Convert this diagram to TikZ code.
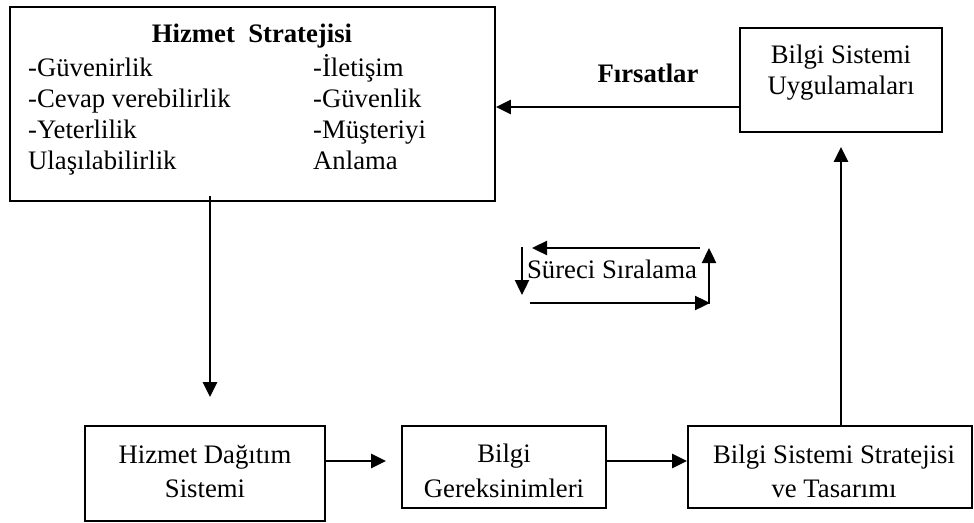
\documentclass[tikz,border=0pt]{standalone}
\usepackage{fontspec}
\setmainfont{Liberation Serif}
\usetikzlibrary{arrows.meta}
\begin{document}
\begin{tikzpicture}[x=1pt,y=-1pt,
  box/.style={draw, line width=1.8pt, inner sep=0pt},
  txt/.style={inner sep=0pt, anchor=base, font=\fontsize{26.7}{32}\selectfont},
  ltxt/.style={txt, anchor=base west},
  arr/.style={line width=2.4pt, -{Triangle[length=15pt,width=14pt]}}]
\useasboundingbox (0,0) rectangle (974,522);

% boxes
\node[box, minimum width=485pt, minimum height=194pt] (hs)  at (252.5,104) {};
\node[box, minimum width=202pt, minimum height=104pt] (bsu) at (841,80) {};
\node[box, minimum width=240pt, minimum height=95pt]  (b1)  at (205,473.5) {};
\node[box, minimum width=204pt, minimum height=82pt]  (b2)  at (504,467) {};
\node[box, minimum width=284pt, minimum height=82pt]  (b3)  at (830,467) {};

% Hizmet Stratejisi contents
\node[txt, font=\fontsize{26.7}{32}\selectfont\bfseries] (hst) at (252,42) {Hizmet\ \ Stratejisi};
\node[ltxt] (l1) at (28,76)  {-Güvenirlik};
\node[ltxt] (l2) at (28,107) {-Cevap verebilirlik};
\node[ltxt] (l3) at (28,138) {-Yeterlilik};
\node[ltxt] (l4) at (28,169) {Ulaşılabilirlik};
\node[ltxt] (r1) at (313,76)  {-İletişim};
\node[ltxt] (r2) at (313,107) {-Güvenlik};
\node[ltxt] (r3) at (313,138) {-Müşteriyi};
\node[ltxt] (r4) at (313,169) {Anlama};

% other box texts
\node[txt] (bsu1) at (841,63) {Bilgi Sistemi};
\node[txt] (bsu2) at (841,94) {Uygulamaları};
\node[txt] (b1a) at (205,463) {Hizmet Dağıtım};
\node[txt] (b1b) at (205,497) {Sistemi};
\node[txt] (b2a) at (504,462) {Bilgi};
\node[txt] (b2b) at (504,497) {Gereksinimleri};
\node[txt] (b3a) at (834,463) {Bilgi Sistemi Stratejisi};
\node[txt] (b3b) at (834,497) {ve Tasarımı};

% labels
\node[txt, font=\fontsize{26.7}{32}\selectfont\bfseries] (firs) at (648,82) {Fırsatlar};
\node[txt] (sira) at (612,278) {Süreci Sıralama};

% connectors
\coordinate (yf) at (0,107);
\coordinate (yb) at (0,461);
\coordinate (xd) at (210,0);
\draw[arr] (bsu.west |- yf) -- (hs.east |- yf);
\draw[arr] ([yshift=6pt]hs.south -| xd) -- ([yshift=28pt]b1.north -| xd);
\draw[arr] (b1.east |- yb) -- ([xshift=-15pt]b2.west |- yb);
\draw[arr] (b2.east |- yb) -- (b3.west |- yb);
\draw[arr] (b3.north -| bsu.south) -- ([yshift=-14pt]bsu.south);

% process-order loop around the label
\coordinate (t1) at (700,248);
\coordinate (t2) at (532,248);
\coordinate (d1) at (522,247);
\coordinate (d2) at (522,295);
\coordinate (u0) at (530,303);
\coordinate (u1) at (710,303);
\coordinate (v0) at (709,304);
\coordinate (v1) at (709,248);
\draw[arr] (t1) -- (t2);
\draw[arr] (d1) -- (d2);
\draw[arr] (u0) -- (u1);
\draw[arr] (v0) -- (v1);
\end{tikzpicture}
\end{document}
